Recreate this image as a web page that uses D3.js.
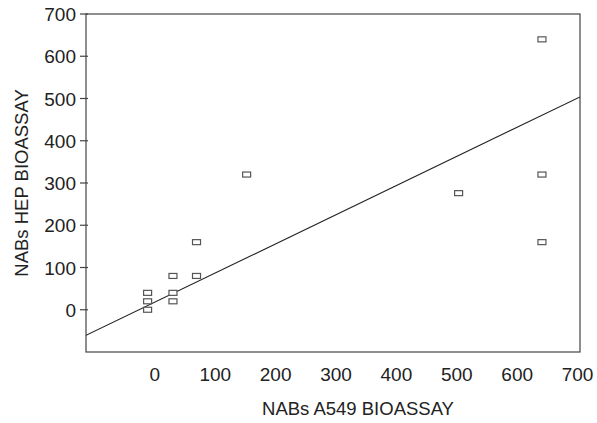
<!DOCTYPE html>
<html lang="en">
<head>
    <meta charset="UTF-8">
    <title>NABs A549 vs HEP bioassay</title>
    <script src="https://d3js.org/d3.v7.min.js"></script>
    <style>
        body {
            margin: 0;
            background: #fff;
            font-family: "Liberation Sans", Arial, sans-serif;
        }
        .tick-label {
            font-size: 19px;
            fill: #222;
        }
        .axis-title {
            font-size: 18.5px;
            fill: #222;
        }
        .point {
            fill: #fff;
            stroke: #555;
            stroke-width: 1.2;
        }
    </style>
</head>
<body>
    <svg id="chart" width="597" height="423"></svg>

    <script>
        // Data
        const a549Values = [-12, -12, -12, 30, 30, 30, 69, 69, 152, 503, 641, 641, 641];
        const hepValues  = [40, 20, 0, 80, 40, 20, 80, 160, 320, 276, 640, 320, 160];
        const tickValues = [0, 100, 200, 300, 400, 500, 600, 700];
        // regression line: hep = intercept + slope * a549
        const fitIntercept = 18;
        const fitSlope = 0.69;

        const svg = d3.select("#chart");
        const plotLeft = 86, plotRight = 580, plotTop = 14, plotBottom = 352;

        const x = d3.scaleLinear().domain([-114, 704]).range([plotLeft, plotRight]);
        const y = d3.scaleLinear().domain([-100, 700]).range([plotBottom, plotTop]);

        svg.append("defs").append("clipPath")
            .attr("id", "plot-clip")
            .append("rect")
            .attr("x", plotLeft).attr("y", plotTop)
            .attr("width", plotRight - plotLeft).attr("height", plotBottom - plotTop);

        // frame
        svg.append("rect")
            .attr("x", plotLeft).attr("y", plotTop)
            .attr("width", plotRight - plotLeft).attr("height", plotBottom - plotTop)
            .attr("fill", "none")
            .attr("stroke", "#444")
            .attr("stroke-width", 1.2);

        // y ticks
        svg.selectAll(".ytick")
            .data(tickValues)
            .enter()
            .append("line")
            .attr("x1", plotLeft - 6)
            .attr("x2", plotLeft + 2)
            .attr("y1", d => y(d))
            .attr("y2", d => y(d))
            .attr("stroke", "#444")
            .attr("stroke-width", 1.2);

        svg.selectAll(".ylabel")
            .data(tickValues)
            .enter()
            .append("text")
            .attr("class", "tick-label")
            .attr("x", plotLeft - 10)
            .attr("y", d => y(d) + 7)
            .attr("text-anchor", "end")
            .text(d => d);

        // x labels (no tick marks in the original)
        svg.selectAll(".xlabel")
            .data(tickValues)
            .enter()
            .append("text")
            .attr("class", "tick-label")
            .attr("x", d => x(d))
            .attr("y", 381)
            .attr("text-anchor", "middle")
            .text(d => d);

        // axis titles
        svg.append("text")
            .attr("class", "axis-title")
            .attr("x", 358)
            .attr("y", 415)
            .attr("text-anchor", "middle")
            .text("NABs A549 BIOASSAY");

        svg.append("text")
            .attr("class", "axis-title")
            .attr("transform", "translate(28,183) rotate(-90)")
            .attr("text-anchor", "middle")
            .text("NABs HEP BIOASSAY");

        // regression line
        const xd = x.domain();
        svg.append("line")
            .attr("clip-path", "url(#plot-clip)")
            .attr("x1", x(xd[0]))
            .attr("y1", y(fitIntercept + fitSlope * xd[0]))
            .attr("x2", x(xd[1]))
            .attr("y2", y(fitIntercept + fitSlope * xd[1]))
            .attr("stroke", "#222")
            .attr("stroke-width", 1.1);

        // points
        const pts = a549Values.map((v, i) => ({ a: v, h: hepValues[i] }));
        svg.selectAll(".point")
            .data(pts)
            .enter()
            .append("rect")
            .attr("class", "point")
            .attr("x", d => x(d.a) - 4)
            .attr("y", d => y(d.h) - 2.5)
            .attr("width", 8)
            .attr("height", 5);
    </script>
</body>
</html>
